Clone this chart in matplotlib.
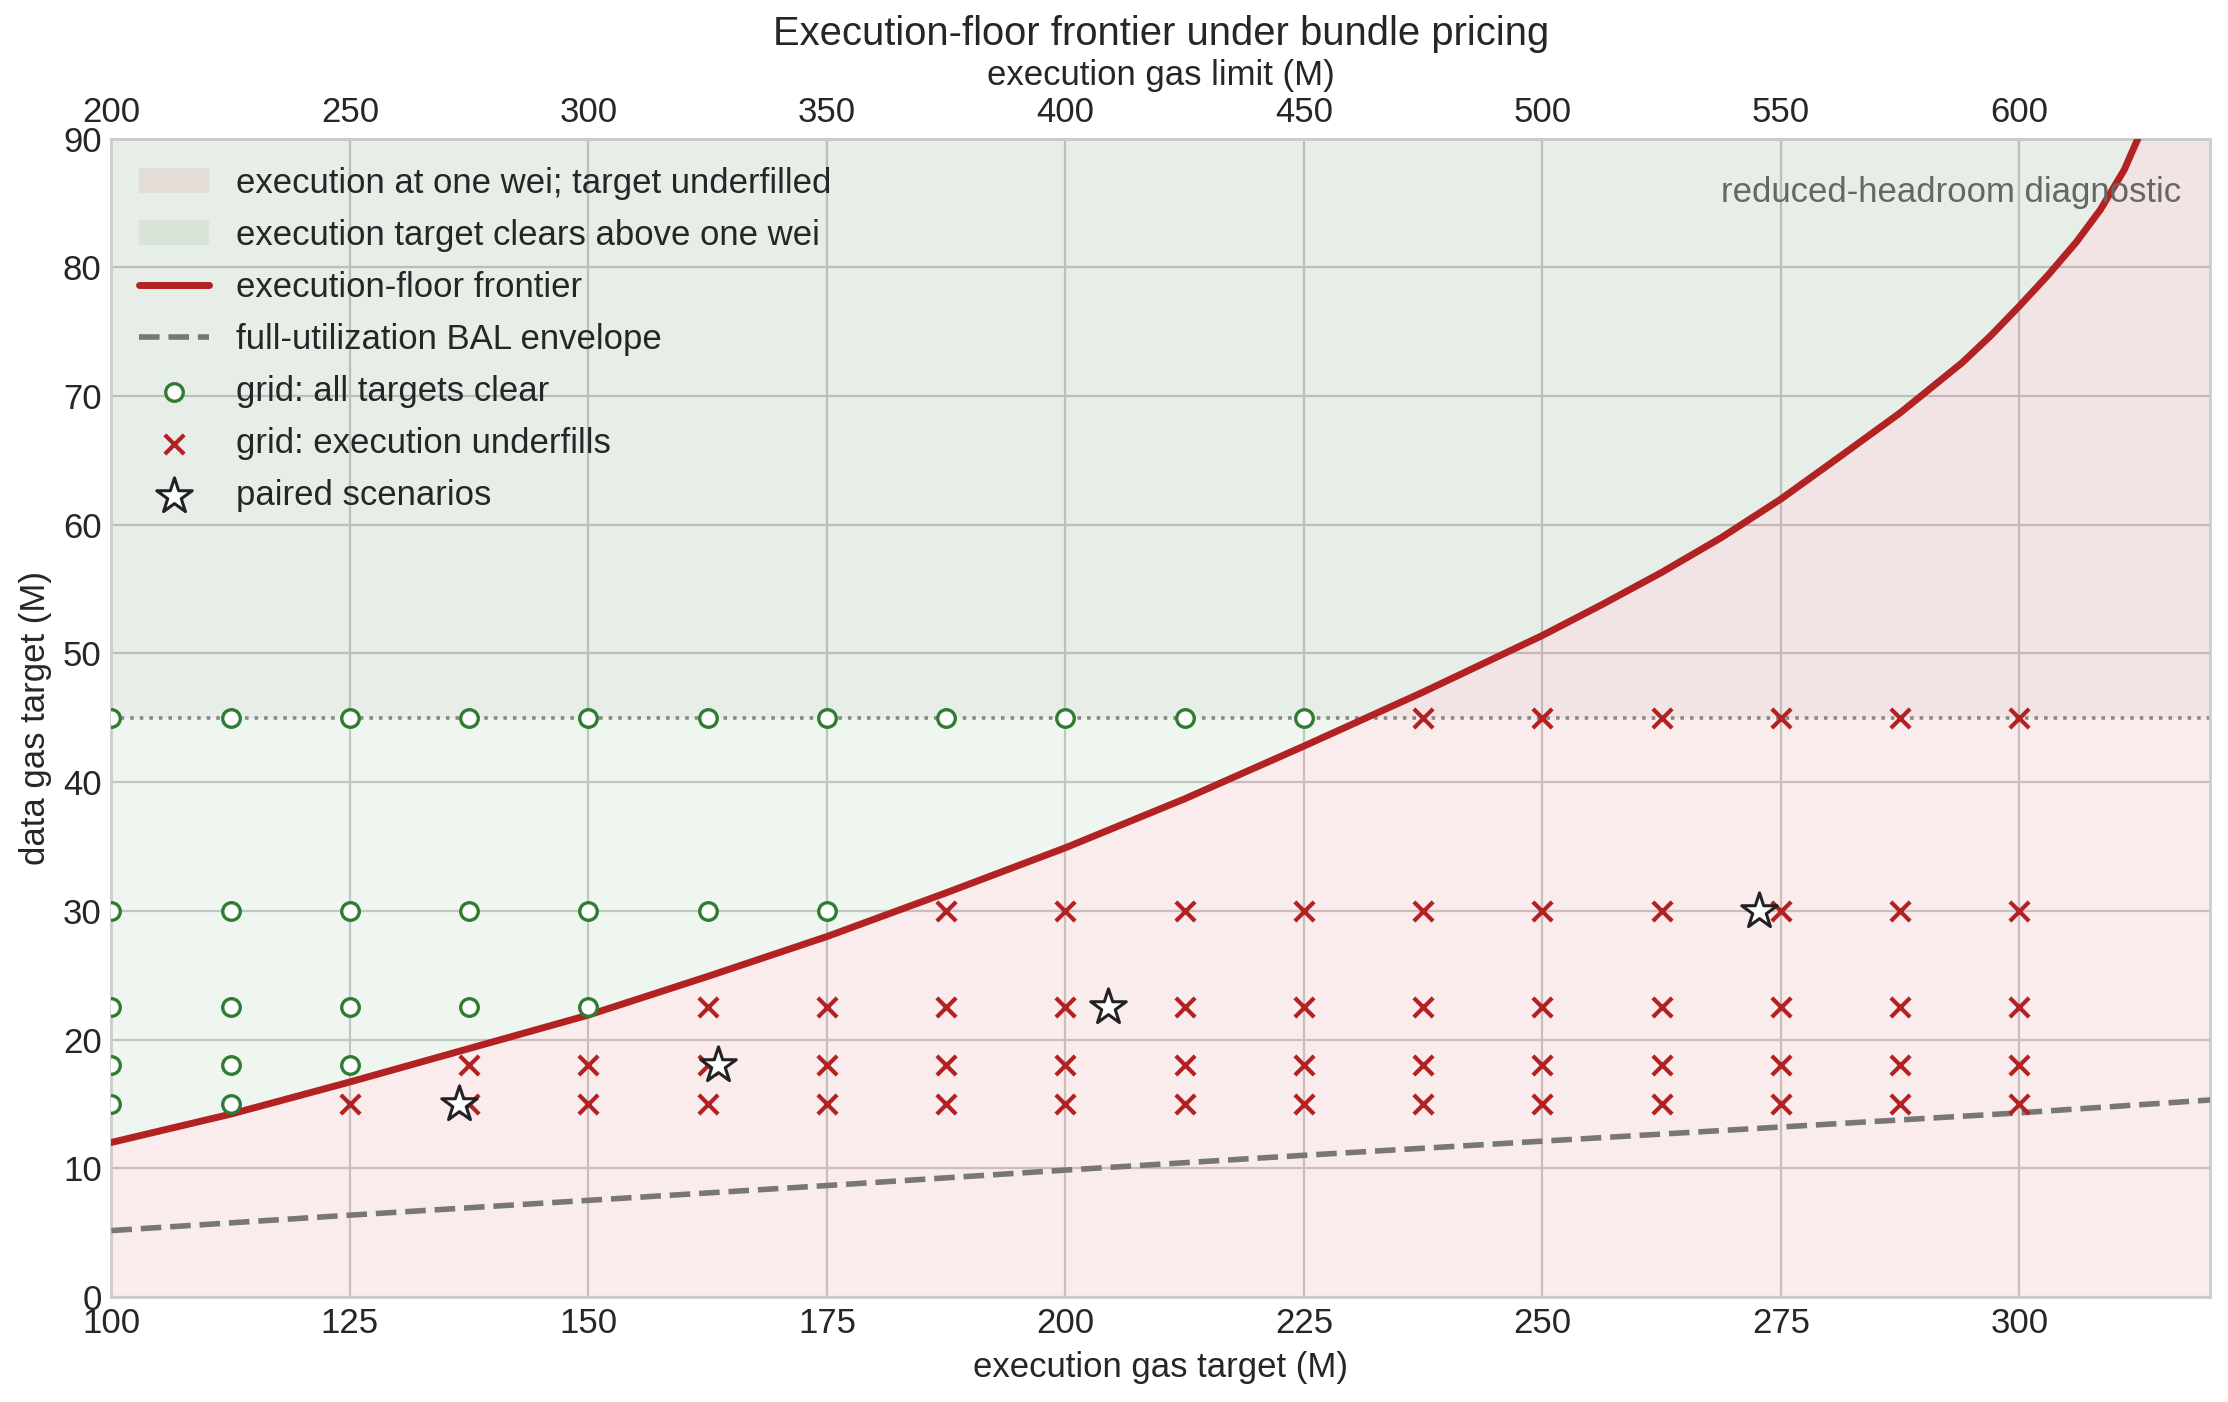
import numpy as np
import matplotlib
matplotlib.use("Agg")
import matplotlib.pyplot as plt

plt.style.use("seaborn-v0_8-whitegrid")
plt.rcParams["font.family"] = ["Liberation Sans", "DejaVu Sans"]

# frontier (execution target, data target)
frontier_x = [100, 112.5, 125, 137.5, 150, 162.5, 175, 187.5, 200, 212.5, 225,
              237.5, 250, 256.25, 262.5, 268.75, 275, 281, 287.5, 294, 297,
              300, 303, 306, 308.5, 311, 313, 320]
frontier_y = [12.0, 14.2, 16.7, 19.3, 21.9, 24.9, 28.0, 31.4, 34.9, 38.7, 42.8,
              47.0, 51.4, 53.8, 56.3, 59.0, 62.0, 65.2, 68.7, 72.6, 74.7,
              77.0, 79.4, 82.0, 84.5, 87.6, 91.0, 110.0]

# full-utilization BAL envelope
bal_x = [100, 125, 150, 175, 200, 225, 250, 275, 300, 320]
bal_y = [5.15, 6.35, 7.5, 8.65, 9.85, 11.0, 12.1, 13.2, 14.3, 15.3]

# scenario grid
grid_exec = [100, 112.5, 125, 137.5, 150, 162.5, 175, 187.5, 200, 212.5, 225,
             237.5, 250, 262.5, 275, 287.5, 300]
grid_data = [15, 18, 22.5, 30, 45]

# paired scenarios
pair_exec = [136.4, 163.6, 204.5, 272.7]
pair_data = [15, 18, 22.5, 30]

data_cap = 45
limit_ticks = [200, 250, 300, 350, 400, 450, 500, 550, 600]

red = "#b22222"
green = "#2e7d32"
fs = 12.5

fig = plt.figure(figsize=(11.14, 7.01), dpi=200)
ax = fig.add_subplot(111)
fig.subplots_adjust(left=0.05, right=0.992, top=0.901, bottom=0.075)

fx = np.array(frontier_x)
fy = np.array(frontier_y)
ax.fill_between(fx, 0, fy, color="#c62828", alpha=0.085, lw=0,
                label="execution at one wei; target underfilled")
ax.fill_between(fx, np.minimum(fy, 90), 90, color=green, alpha=0.075, lw=0,
                label="execution target clears above one wei")
ax.axhspan(data_cap, 90, color="black", alpha=0.03, lw=0)

ax.plot(fx, fy, color=red, lw=2.5, label="execution-floor frontier", zorder=3)
ax.plot(bal_x, bal_y, color="#777777", lw=2.0, ls="--",
        label="full-utilization BAL envelope", zorder=3)
ax.axhline(data_cap, color="#888888", lw=1.3, ls=":", zorder=2)

gx, gy = np.meshgrid(grid_exec, grid_data)
gx = gx.ravel()
gy = gy.ravel()
clear = gy >= np.interp(gx, fx, fy)
ax.scatter(gx[clear], gy[clear], s=40, facecolor="white", edgecolor=green,
           lw=1.2, label="grid: all targets clear", zorder=4)
ax.scatter(gx[~clear], gy[~clear], s=48, marker="x", color=red, lw=1.5,
           label="grid: execution underfills", zorder=4)
ax.scatter(pair_exec, pair_data, s=180, marker="*", facecolor="white",
           edgecolor="#222222", lw=1.1, label="paired scenarios", zorder=5)

ax.set_xlim(100, 320)
ax.set_ylim(0, 90)
ax.set_xlabel("execution gas target (M)", fontsize=fs)
ax.set_ylabel("data gas target (M)", fontsize=fs)
ax.tick_params(labelsize=fs)

top = ax.secondary_xaxis("top", functions=(lambda v: 2 * v, lambda v: v / 2))
top.set_xticks(limit_ticks)
top.set_xlabel("execution gas limit (M)", fontsize=fs)
top.tick_params(labelsize=fs, length=0)

ax.set_title("Execution-floor frontier under bundle pricing", fontsize=14.4, pad=5)
ax.text(0.986, 0.954, "reduced-headroom diagnostic", transform=ax.transAxes,
        ha="right", va="center", fontsize=fs, color="#666666")

ax.legend(loc="upper left", fontsize=fs, frameon=False, borderaxespad=0.4,
          labelspacing=0.55, handlelength=2.0, handletextpad=0.8)

fig.savefig("out.png", dpi=200)
